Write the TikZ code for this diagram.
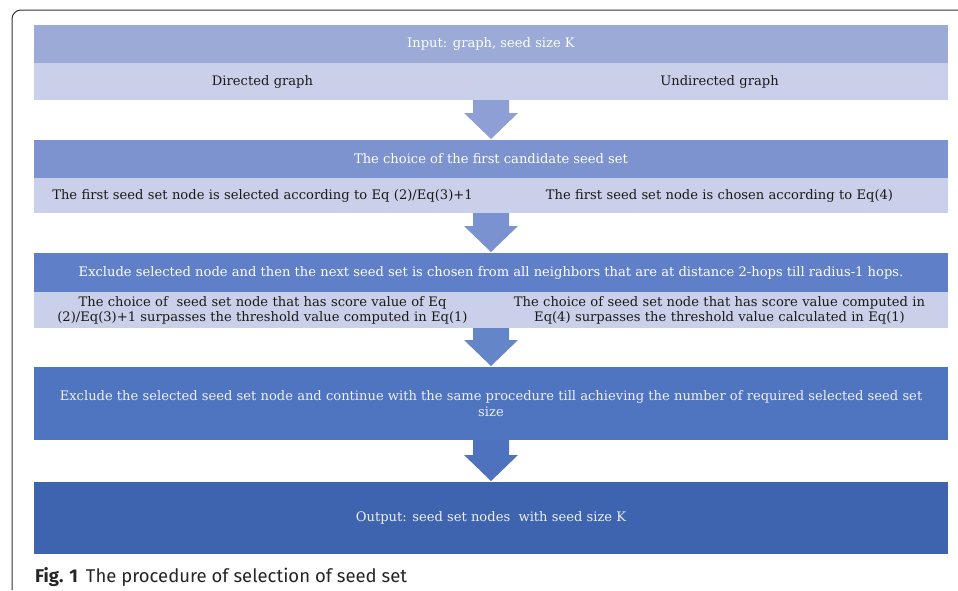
\documentclass[tikz,border=0pt]{standalone}
\usepackage{fontspec}
\setmainfont{DejaVu Serif}
\newfontfamily\capfont{Fira Sans}
\usetikzlibrary{calc}
\definecolor{cA}{RGB}{155,170,214}
\definecolor{cL}{RGB}{202,208,233}
\definecolor{cB}{RGB}{125,147,207}
\definecolor{cC}{RGB}{95,128,200}
\definecolor{cD}{RGB}{79,116,192}
\definecolor{cE}{RGB}{62,100,176}
\definecolor{aA}{RGB}{141,159,213}
\definecolor{aB}{RGB}{122,146,208}
\definecolor{aC}{RGB}{101,133,201}
\definecolor{aD}{RGB}{78,114,190}
\definecolor{txtdark}{RGB}{25,25,25}
\definecolor{frame}{RGB}{50,50,50}
\tikzset{
  boxfont/.style={font=\fontsize{13.1}{15.5}\selectfont},
  rowbox/.style={inner sep=0pt, outer sep=0pt, minimum width=914pt, boxfont},
  halfbox/.style={inner sep=0pt, outer sep=0pt, text width=450pt, align=center, boxfont, text=txtdark},
}
\newcommand\blockarr[3]{%
  \fill[#3] let \p1=(#1.south), \p2=(#2.north) in
    (\x1-18pt,\y1) -- (\x1+18pt,\y1) -- (\x1+18pt,\y2+27pt) -- (\x1+27pt,\y2+27pt)
    -- (\x1,\y2+1pt) -- (\x1-27pt,\y2+27pt) -- (\x1-18pt,\y2+27pt) -- cycle;}
\begin{document}
\begin{tikzpicture}[x=1pt,y=1pt]
\useasboundingbox (0,0) rectangle (958,-590);
\fill[white] (0,0) rectangle (958,-590);
\draw[frame, line width=1pt, rounded corners=9pt] (12,-590) -- (12,-10) -- (958,-10);

% row 1
\node[rowbox, fill=cA, minimum height=38pt, text=white] (r1) at (491,-44) {Input: graph, seed size K};
\node[rowbox, fill=cL, minimum height=37pt] (r1b) at (491,-81.5) {};
\node[halfbox] (r1l) at (262.5,-81.5) {Directed graph};
\node[halfbox] (r1r) at (719.5,-81.5) {Undirected graph};

% row 2
\node[rowbox, fill=cB, minimum height=38pt, text=white] (r2) at (491,-159) {The choice of the first candidate seed set};
\node[rowbox, fill=cL, minimum height=35pt] (r2b) at (491,-195.5) {};
\node[halfbox] (r2l) at (262.5,-195.5) {The first seed set node is selected according to Eq (2)/Eq(3)+1};
\node[halfbox] (r2r) at (719.5,-195.5) {The first seed set node is chosen according to Eq(4)};

% row 3
\node[rowbox, fill=cC, minimum height=39pt, text=white] (r3) at (491,-272.5) {Exclude selected node and then the next seed set is chosen from all neighbors that are at distance 2-hops till radius-1 hops.};
\node[rowbox, fill=cL, minimum height=36pt] (r3b) at (491,-310) {};
\node[halfbox] (r3l) at (262.5,-310.5) {The choice of\ \ seed set node that has score value of Eq\\(2)/Eq(3)+1 surpasses the threshold value computed in Eq(1)};
\node[halfbox] (r3r) at (719.5,-310.5) {The choice of seed set node that has score value computed in\\Eq(4) surpasses the threshold value calculated in Eq(1)};

% row 4
\node[rowbox, fill=cD, minimum height=73pt, text=white!94!black, align=center] (r4) at (491,-403.5) {Exclude the selected seed set node and continue with the same procedure till achieving the number of required selected seed set\\size};

% row 5
\node[rowbox, fill=cE, minimum height=72pt, text=white!94!black] (r5) at (491,-518) {Output: seed set nodes\ \ with seed size K};

% arrows
\blockarr{r1b}{r2}{aA}
\blockarr{r2b}{r3}{aB}
\blockarr{r3b}{r4}{aC}
\blockarr{r4}{r5}{aD}

% caption
\node[anchor=base west, inner sep=0pt, font=\capfont\fontsize{18.5}{21}\selectfont, text=black!85] (cap) at (35,-582) {\textbf{Fig. 1}\hspace{8pt}The procedure of selection of seed set};
\end{tikzpicture}
\end{document}
